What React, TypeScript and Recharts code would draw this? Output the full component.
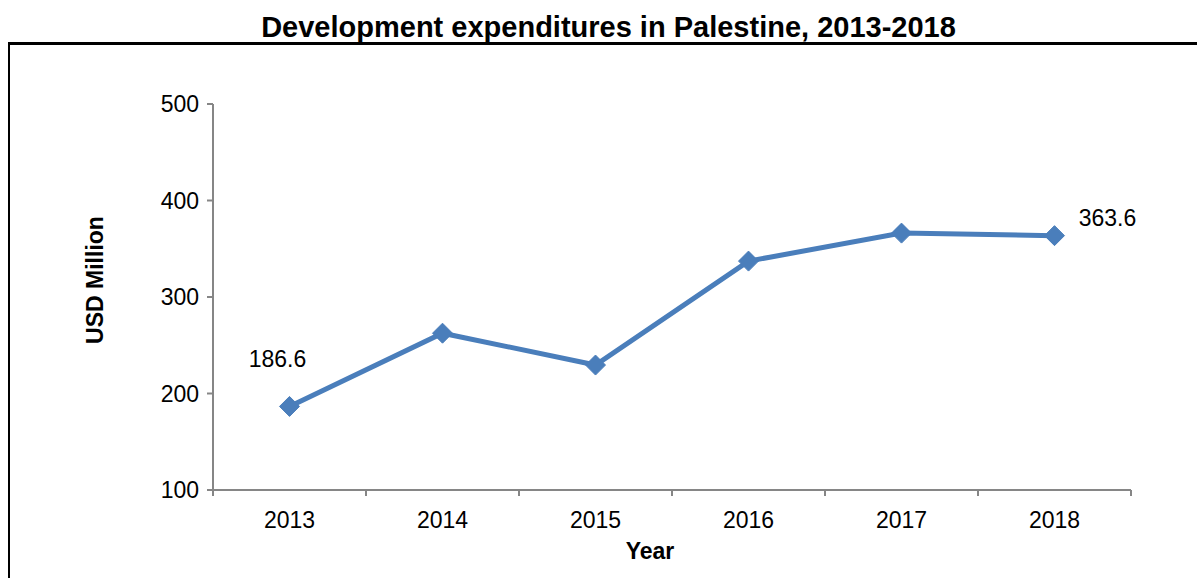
import React from 'react';
import { LineChart, Line, XAxis, YAxis, LabelList } from 'recharts';

const years = ['2013', '2014', '2015', '2016', '2017', '2018'];
const expenditures = [186.6, 262.5, 229.5, 337.2, 366.2, 363.6];
const yTicks = [100, 200, 300, 400, 500];

const data = years.map((year, i) => ({ year, value: expenditures[i] }));

const W = 1197;
const H = 578;
const margin = { top: 104, right: 66, bottom: 58, left: 153 };
const Y_AXIS_W = 60;
const X_AXIS_H = 30;
const plotW = W - margin.left - margin.right - Y_AXIS_W;
const band = plotW / years.length;

const FONT = '"Liberation Sans", Arial, sans-serif';
const FS = 23;
const BLUE = '#4A7EBB';
const AXIS = '#868686';

// Excel-style category axis: ticks sit between the categories
const XTick = (props: any) => {
  const { x, y, payload, index } = props;
  return (
    <g>
      <line x1={x - band / 2} y1={y} x2={x - band / 2} y2={y + 6} stroke={AXIS} strokeWidth={2} />
      {index === years.length - 1 && (
        <line x1={x + band / 2} y1={y} x2={x + band / 2} y2={y + 6} stroke={AXIS} strokeWidth={2} />
      )}
      <text x={x} y={y + 38} textAnchor="middle" fontSize={FS} fill="#000" fontFamily={FONT}>
        {payload.value}
      </text>
    </g>
  );
};

const Diamond = (props: any) => {
  const { cx, cy } = props;
  if (cx == null || cy == null) return null;
  const r = 10;
  return (
    <polygon
      points={`${cx},${cy - r} ${cx + r},${cy} ${cx},${cy + r} ${cx - r},${cy}`}
      fill={BLUE}
      stroke={BLUE}
    />
  );
};

// only the first and last points carry a value label
const EndLabel = (props: any) => {
  const { x, y, value, index } = props;
  if (index === 0) {
    return (
      <text x={x - 12} y={y - 39} textAnchor="middle" fontSize={FS} fill="#000" fontFamily={FONT}>
        {value}
      </text>
    );
  }
  if (index === years.length - 1) {
    return (
      <text x={x + 53} y={y - 10} textAnchor="middle" fontSize={FS} fill="#000" fontFamily={FONT}>
        {value}
      </text>
    );
  }
  return null;
};

export default function App() {
  return (
    <div style={{ position: 'absolute', left: 0, top: 0, width: W, height: H, overflow: 'hidden', background: '#fff', fontFamily: FONT }}>
      <div
        style={{
          position: 'absolute',
          left: 8,
          top: 42,
          width: 1300,
          height: 700,
          borderTop: '3px solid #000',
          borderLeft: '2px solid #000',
        }}
      />
      <div
        style={{
          position: 'absolute',
          left: 0,
          width: 1217,
          top: 10,
          textAlign: 'center',
          fontSize: 29,
          fontWeight: 'bold',
          color: '#000',
          lineHeight: '34px',
        }}
      >
        Development expenditures in Palestine, 2013-2018
      </div>
      <div style={{ position: 'absolute', left: 0, top: 0 }}>
        <LineChart width={W} height={H} data={data} margin={margin}>
          <XAxis
            dataKey="year"
            height={X_AXIS_H}
            padding={{ left: band / 2, right: band / 2 }}
            axisLine={{ stroke: AXIS, strokeWidth: 2 }}
            tickLine={false}
            tickSize={0}
            tickMargin={0}
            tick={<XTick />}
            interval={0}
            label={{
              content: (p: any) => {
                const vb = p.viewBox;
                return (
                  <text x={vb.x + vb.width / 2 - 22} y={vb.y + 69} textAnchor="middle" fontSize={FS} fontWeight="bold" fill="#000" fontFamily={FONT}>
                    Year
                  </text>
                );
              },
            }}
          />
          <YAxis
            width={Y_AXIS_W}
            domain={[100, 500]}
            ticks={yTicks}
            interval={0}
            axisLine={{ stroke: AXIS, strokeWidth: 2 }}
            tickLine={{ stroke: AXIS, strokeWidth: 2 }}
            tickSize={6}
            tickMargin={8}
            tick={{ fontSize: FS, fill: '#000', fontFamily: FONT }}
            label={{
              content: (p: any) => {
                const vb = p.viewBox;
                const cx = vb.x - 58;
                const cy = vb.y + vb.height / 2 - 17;
                return (
                  <text x={cx} y={cy} transform={`rotate(-90 ${cx} ${cy})`} textAnchor="middle" dominantBaseline="central" fontSize={FS} fontWeight="bold" fill="#000" fontFamily={FONT}>
                    USD Million
                  </text>
                );
              },
            }}
          />
          <Line
            type="linear"
            dataKey="value"
            stroke={BLUE}
            strokeWidth={5}
            dot={<Diamond />}
            activeDot={false}
            isAnimationActive={false}
          >
            <LabelList dataKey="value" content={<EndLabel />} />
          </Line>
        </LineChart>
      </div>
    </div>
  );
}
